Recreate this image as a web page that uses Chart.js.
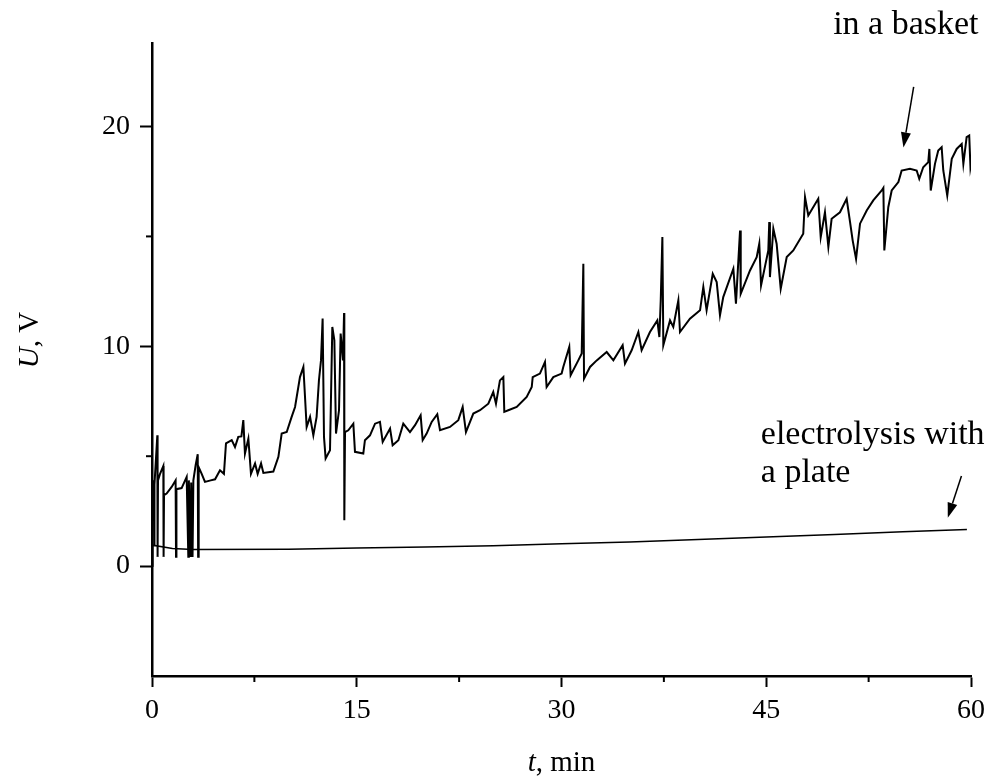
<!DOCTYPE html>
<html>
<head>
<meta charset="utf-8">
<script src="https://cdn.jsdelivr.net/npm/chart.js@4.4.1/dist/chart.umd.min.js"></script>
<style>
  html, body { margin: 0; padding: 0; background: #fff; }
  #wrap { width: 995px; height: 783px; }
</style>
</head>
<body>
<div id="wrap"><canvas id="c"></canvas></div>
<script>
// voltage in the basket, t (min) / U (V)
var basketT = [0, 0.02, 0.15, 0.17, 0.19, 0.39, 0.41, 0.44, 0.59, 0.83, 0.85, 0.88, 1.07, 1.44, 1.73, 1.76, 1.79,
  2.17, 2.54, 2.66, 2.7, 2.83, 2.87, 2.97, 3.03, 3.2, 3.35, 3.38, 3.42, 3.64, 3.88, 4.3, 4.62, 4.98, 5.27, 5.42,
  5.84, 6.08, 6.32, 6.55, 6.69, 6.81, 7.06, 7.25, 7.55, 7.74, 7.99, 8.16, 8.89, 9.26, 9.5, 9.87, 10.23, 10.48,
  10.84, 11.09, 11.33, 11.58, 11.82, 12.06, 12.23, 12.38, 12.5, 12.6, 12.72, 13.04, 13.21, 13.36, 13.48, 13.7,
  13.82, 13.99, 14.07, 14.09, 14.14, 14.38, 14.75, 14.87, 15.48, 15.6, 15.97, 16.34, 16.7, 16.9, 17.44, 17.63,
  18.05, 18.41, 18.9, 19.27, 19.68, 19.83, 20.12, 20.49, 20.9, 21.1, 21.83, 22.44, 22.76, 23.0, 23.54, 24.03,
  24.64, 25.0, 25.2, 25.49, 25.74, 25.81, 26.1, 26.72, 27.45, 27.82, 27.89, 28.42, 28.79, 28.91, 29.4, 30.01,
  30.13, 30.57, 30.67, 31.23, 31.48, 31.6, 31.65, 32.09, 32.58, 33.31, 33.8, 34.48, 34.65, 35.14, 35.63, 35.87,
  36.48, 37.02, 37.17, 37.27, 37.39, 37.46, 37.95, 38.19, 38.56, 38.68, 39.41, 40.15, 40.39, 40.63, 41.08, 41.37,
  41.61, 41.85, 42.59, 42.78, 43.08, 43.13, 43.81, 44.3, 44.49, 44.62, 45.15, 45.22, 45.27, 45.52, 45.76, 46.06,
  46.5, 46.98, 47.71, 47.84, 48.08, 48.81, 48.99, 49.3, 49.55, 49.79, 50.4, 50.89, 51.14, 51.33, 51.58, 51.87,
  52.36, 52.84, 53.46, 53.58, 53.65, 53.94, 54.19, 54.68, 54.92, 55.53, 56.02, 56.21, 56.5, 56.87, 56.95, 57.05,
  57.36, 57.6, 57.85, 57.97, 58.26, 58.59, 58.95, 59.32, 59.44, 59.68, 59.87, 59.96, 60.0];
var basketU = [0, 3.9, 3.8, 0.9, 3.7, 5.95, 0.42, 3.9, 4.2, 4.56, 0.42, 3.23, 3.3, 3.6, 3.9, 0.42, 3.5,
  3.55, 4.06, 0.42, 3.9, 0.42, 3.8, 0.42, 3.9, 4.6, 5.09, 0.42, 4.5, 4.2, 3.83, 3.9, 3.95, 4.36, 4.2, 5.58,
  5.73, 5.42, 5.88, 5.9, 6.64, 5.12, 5.8, 4.2, 4.67, 4.2, 4.67, 4.24, 4.3, 4.97, 6.03, 6.1, 6.79, 7.24,
  8.6, 9.06, 6.33, 6.79, 5.95, 6.79, 8.45, 9.36, 11.26, 5.88, 4.9, 5.27, 10.88, 10.27, 6.03, 7.09,
  10.58, 9.36, 11.52, 2.09, 6.1, 6.18, 6.48, 5.2, 5.12, 5.73, 5.95, 6.48, 6.56, 5.65, 6.26, 5.5,
  5.73, 6.48, 6.1, 6.41, 6.86, 5.73, 6.03, 6.56, 6.91, 6.18, 6.33, 6.64, 7.24, 6.1, 6.94, 7.09,
  7.39, 7.92, 7.39, 8.45, 8.6, 7.02, 7.09, 7.24, 7.7, 8.15, 8.6, 8.76, 9.29, 8.15, 8.6, 8.76,
  9.06, 9.97, 8.68, 9.36, 9.67, 13.76, 8.53, 9.06, 9.36, 9.74, 9.36, 10.05, 9.21, 9.82, 10.65, 9.82,
  10.65, 11.18, 10.42, 12.09, 14.97, 10.05, 11.18, 10.88, 12.09, 10.65, 11.26, 11.64, 12.7, 11.64, 13.3, 12.92,
  11.41, 12.24, 13.53, 11.94, 15.27, 12.39, 13.45, 14.06, 14.67, 12.77, 14.36, 15.65, 13.15, 15.35, 14.67, 12.62,
  14.06, 14.36, 15.12, 16.79, 15.95, 16.71, 14.97, 16.1, 14.52, 15.8, 16.1, 16.71, 15.65, 14.82, 13.98, 15.58,
  16.18, 16.64, 17.09, 17.21, 14.36, 16.33, 17.09, 17.47, 18.0, 18.08, 18.0, 17.62, 18.15, 18.38, 18.98, 17.09,
  18.3, 18.91, 19.06, 18.0, 16.86, 18.53, 18.98, 19.21, 18.3, 19.52, 19.59, 18.15, 18.3];

// electrolysis with a plate
var plateT = [0, 0.05, 1.5, 3, 10, 15, 20, 25, 30, 35, 40, 45, 50, 55, 59.7];
var plateU = [0, 0.95, 0.8, 0.75, 0.77, 0.82, 0.87, 0.93, 1.02, 1.1, 1.21, 1.32, 1.44, 1.56, 1.67];

var xMajor = [0, 15, 30, 45, 60];
var xMinor = [7.5, 22.5, 37.5, 52.5];
var yMajor = [0, 10, 20];
var yMinor = [5, 15];

var serif = '"Liberation Serif", "Times New Roman", serif';

function toPoints(xs, ys) {
  let pts = [];
  for (let i = 0; i < xs.length; i++) pts.push({x: xs[i], y: ys[i]});
  return pts;
}

function drawArrow(ctx, x1, y1, x2, y2) {
  let ang = Math.atan2(y2 - y1, x2 - x1);
  let hl = 15, hw = 5;
  ctx.beginPath();
  ctx.moveTo(x1, y1);
  ctx.lineTo(x2 - hl * Math.cos(ang), y2 - hl * Math.sin(ang));
  ctx.lineWidth = 1.5;
  ctx.stroke();
  ctx.beginPath();
  ctx.moveTo(x2, y2);
  ctx.lineTo(x2 - hl * Math.cos(ang) + hw * Math.sin(ang), y2 - hl * Math.sin(ang) - hw * Math.cos(ang));
  ctx.lineTo(x2 - hl * Math.cos(ang) - hw * Math.sin(ang), y2 - hl * Math.sin(ang) + hw * Math.cos(ang));
  ctx.closePath();
  ctx.fill();
}

var extras = {
  id: 'extras',
  afterDraw: function(chart) {
    let ctx = chart.ctx;
    let xs = chart.scales.x, ys = chart.scales.y;
    let area = chart.chartArea;
    ctx.save();
    ctx.strokeStyle = '#000';
    ctx.fillStyle = '#000';
    // minor ticks
    ctx.lineWidth = 2;
    xMinor.forEach(function(v) {
      let p = xs.getPixelForValue(v);
      ctx.beginPath(); ctx.moveTo(p, area.bottom); ctx.lineTo(p, area.bottom + 6); ctx.stroke();
    });
    yMinor.forEach(function(v) {
      let p = ys.getPixelForValue(v);
      ctx.beginPath(); ctx.moveTo(area.left, p); ctx.lineTo(area.left - 6, p); ctx.stroke();
    });

    // axis titles
    ctx.textBaseline = 'alphabetic';
    ctx.textAlign = 'left';
    let fi = 'italic 29px ' + serif, fn = '29px ' + serif;
    ctx.font = fi; let w1 = ctx.measureText('t').width;
    ctx.font = fn; let w2 = ctx.measureText(', min').width;
    let cx = (area.left + area.right) / 2, by = 771;
    ctx.font = fi; ctx.fillText('t', cx - (w1 + w2) / 2, by);
    ctx.font = fn; ctx.fillText(', min', cx - (w1 + w2) / 2 + w1, by);

    ctx.save();
    ctx.translate(38, 340);
    ctx.rotate(-Math.PI / 2);
    ctx.font = fi; w1 = ctx.measureText('U').width;
    ctx.font = fn; w2 = ctx.measureText(', V').width;
    ctx.font = fi; ctx.fillText('U', -(w1 + w2) / 2, 0);
    ctx.font = fn; ctx.fillText(', V', -(w1 + w2) / 2 + w1, 0);
    ctx.restore();

    // annotations
    ctx.font = '34px ' + serif;
    ctx.fillText('in a basket', xs.getPixelForValue(49.9), 34);
    ctx.fillText('electrolysis with', xs.getPixelForValue(44.6), 444);
    ctx.fillText('a plate', xs.getPixelForValue(44.6), 482);
    drawArrow(ctx, xs.getPixelForValue(55.8), ys.getPixelForValue(21.8), xs.getPixelForValue(55.05), ys.getPixelForValue(19.05));
    drawArrow(ctx, xs.getPixelForValue(59.3), ys.getPixelForValue(4.1), xs.getPixelForValue(58.3), ys.getPixelForValue(2.2));
    ctx.restore();
  }
};

var ctx = document.getElementById('c');
var myChart = new Chart(ctx, {
  type: 'scatter',
  data: {
    datasets: [{
      label: 'in a basket',
      data: toPoints(basketT, basketU),
      showLine: true,
      borderColor: '#000',
      borderWidth: 2,
      pointRadius: 0,
      tension: 0
    }, {
      label: 'electrolysis with a plate',
      data: toPoints(plateT, plateU),
      showLine: true,
      borderColor: '#000',
      borderWidth: 1.5,
      pointRadius: 0,
      tension: 0
    }]
  },
  options: {
    responsive: true,
    maintainAspectRatio: false,
    animation: false,
    layout: { padding: { top: 43, right: 24, left: 0, bottom: 0 } },
    plugins: { legend: { display: false }, tooltip: { enabled: false } },
    scales: {
      x: {
        type: 'linear', min: 0, max: 60,
        afterBuildTicks: function(s) { s.ticks = xMajor.map(function(v) { return {value: v}; }); },
        afterFit: function(s) { s.height = 107; },
        border: { color: '#000', width: 2.5 },
        grid: { drawOnChartArea: false, tickLength: 11, tickWidth: 2, tickColor: '#000' },
        ticks: { color: '#000', font: { family: serif, size: 28 }, padding: 7, maxRotation: 0 }
      },
      y: {
        type: 'linear', min: -5, max: 23.8,
        afterBuildTicks: function(s) { s.ticks = yMajor.map(function(v) { return {value: v}; }); },
        afterFit: function(s) { s.width = 152; },
        border: { color: '#000', width: 2.5 },
        grid: { drawOnChartArea: false, tickLength: 12, tickWidth: 2, tickColor: '#000' },
        ticks: { color: '#000', font: { family: serif, size: 28 }, padding: 10 }
      }
    }
  },
  plugins: [extras]
});
</script>
</body>
</html>
